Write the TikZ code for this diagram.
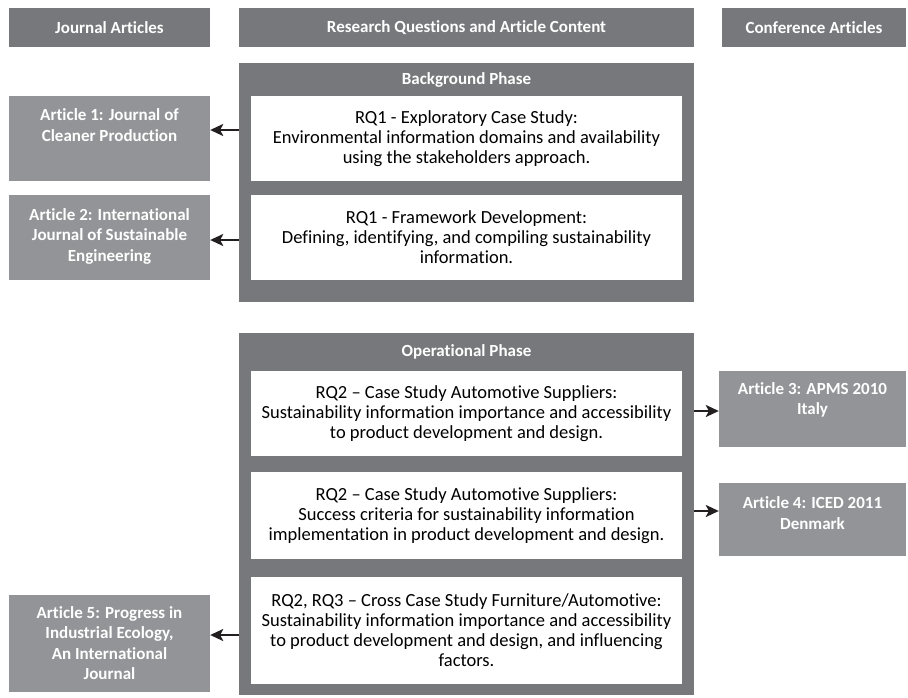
\documentclass[tikz,border=0pt]{standalone}
\usepackage{fontspec}
\setmainfont{Carlito}[Ligatures=NoCommon]
\usetikzlibrary{arrows.meta,positioning}
\definecolor{phasegray}{RGB}{119,120,123}
\definecolor{articlegray}{RGB}{146,148,151}
\definecolor{arrowblack}{RGB}{35,31,32}

\begin{document}
\begin{tikzpicture}[x=1pt,y=-1pt,
    header/.style={fill=phasegray, text=white, inner sep=0pt, minimum height=39pt,
      font=\fontsize{17}{20}\selectfont\bfseries},
    phase/.style={fill=phasegray, inner sep=0pt, minimum width=455pt},
    phasetitle/.style={text=white, font=\fontsize{17}{20}\selectfont\bfseries},
    rqbox/.style={fill=white, inner sep=0pt, minimum width=431pt, align=center,
      font=\fontsize{18.5}{20}\selectfont},
    artbox/.style={fill=articlegray, inner sep=0pt},
    arttext/.style={text=white, align=center, font=\fontsize{17}{20.5}\selectfont\bfseries},
    arr/.style={-{Stealth[length=13pt,width=12pt,inset=3pt]}, line width=1.9pt, arrowblack}]
    \useasboundingbox (0,0) rectangle (908,697);

    % --- Column headers ---
    \node[header, minimum width=201pt] (hjournal) at (109.5,27.5) {Journal Articles};
    \node[header, minimum width=455pt] (hresearch) at (466.5,27.5) {Research Questions and Article Content};
    \node[header, minimum width=184pt] (hconf) at (814,27.5) {Conference Articles};

    % --- Background phase ---
    \node[phase, minimum height=239pt] (bgphase) at (466.5,182.5) {};
    \node[phasetitle] (bgtitle) at (466.5,80) {Background Phase};
    \node[rqbox, minimum height=85pt] (rqa) at (466.5,138.5)
      {RQ1 - Exploratory Case Study:\\Environmental information domains and availability\\using the stakeholders approach.};
    \node[rqbox, minimum height=85pt] (rqb) at (466.5,237.5)
      {RQ1 - Framework Development:\\Defining, identifying, and compiling sustainability\\information.};

    % --- Operational phase ---
    \node[phase, minimum height=362pt] (opphase) at (466.5,514) {};
    \node[phasetitle] (optitle) at (466.5,352) {Operational Phase};
    \node[rqbox, minimum height=85pt] (rqc) at (466.5,413.5)
      {RQ2 -- Case Study Automotive Suppliers:\\Sustainability information importance and accessibility\\to product development and design.};
    \node[rqbox, minimum height=87pt] (rqd) at (466.5,515.5)
      {RQ2 -- Case Study Automotive Suppliers:\\Success criteria for sustainability information\\implementation in product development and design.};
    \node[rqbox, minimum height=107pt] (rqe) at (466.5,630.5)
      {RQ2, RQ3 -- Cross Case Study Furniture/Automotive:\\Sustainability information importance and accessibility\\to product development and design, and influencing\\factors.};

    % --- Journal articles (left) ---
    \node[artbox, minimum width=201pt, minimum height=85pt] (arta) at (109.5,138.5) {};
    \node[arttext] (artalabel) at (109.5,125) {Article 1: Journal of\\Cleaner Production};
    \node[artbox, minimum width=201pt, minimum height=85pt] (artb) at (109.5,237.5) {};
    \node[arttext] (artblabel) at (109.5,236) {Article 2: International\\Journal of Sustainable\\Engineering};
    \node[artbox, minimum width=201pt, minimum height=97pt] (arte) at (109.5,643.5) {};
    \node[arttext] (artelabel) at (109.5,643) {Article 5: Progress in\\Industrial Ecology,\\An International\\Journal};

    % --- Conference articles (right) ---
    \node[artbox, minimum width=187pt, minimum height=76pt] (artc) at (812.5,409) {};
    \node[arttext] (artclabel) at (812.5,400) {Article 3: APMS 2010\\Italy};
    \node[artbox, minimum width=187pt, minimum height=73pt] (artd) at (812.5,519.5) {};
    \node[arttext] (artdlabel) at (812.5,513) {Article 4: ICED 2011\\Denmark};

    % --- Arrows ---
    \path (bgphase.west |- artalabel) ++(0,5) coordinate (astart);
    \path (bgphase.west |- rqb) ++(0,2.5) coordinate (bstart);
    \path (opphase.east |- rqc) ++(0,-2.5) coordinate (cstart);
    \path (opphase.east |- rqd) ++(0,-4.5) coordinate (dstart);
    \path (opphase.west |- rqe) ++(0,4.5) coordinate (estart);
    \draw[arr] (astart) -- (astart -| arta.east);
    \draw[arr] (bstart) -- (bstart -| artb.east);
    \draw[arr] (cstart) -- (cstart -| artc.west);
    \draw[arr] (dstart) -- (dstart -| artd.west);
    \draw[arr] (estart) -- (estart -| arte.east);
\end{tikzpicture}
\end{document}
